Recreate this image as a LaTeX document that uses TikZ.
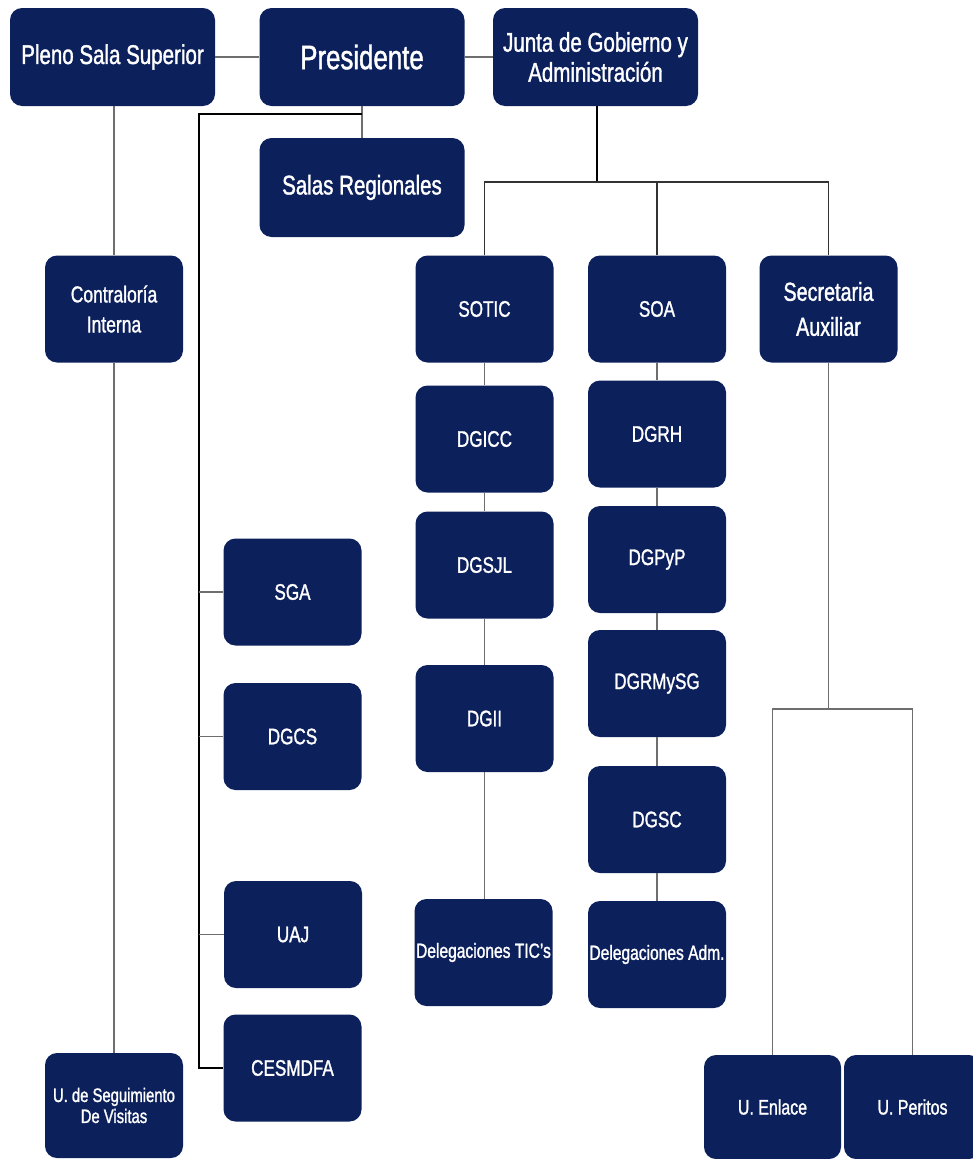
\documentclass[tikz,border=0pt]{standalone}
\usepackage{fontspec}
\setmainfont[FakeStretch=0.76,FakeBold=1.3]{Liberation Sans}
\definecolor{navy}{RGB}{12,32,92}
\definecolor{lineg}{RGB}{110,110,110}
\begin{document}
\begin{tikzpicture}[x=1pt,y=-1pt,
  box/.style={fill=navy, rounded corners=12pt, text=white, align=center,
    inner sep=0pt, minimum width=138pt, minimum height=107pt,
    font=\fontsize{22.5}{27}\selectfont},
  topbox/.style={box, minimum width=205pt, minimum height=98pt,
    font=\fontsize{27}{30}\selectfont},
  conn/.style={draw=lineg, line width=1.5pt},
  bus/.style={draw=black, line width=1.8pt}]
\fill[white] (0,0) rectangle (972,1159);
\useasboundingbox (0,0) rectangle (972,1159);
% top row
\node[topbox] (pleno) at (112.5,57) {Pleno Sala Superior};
\node[topbox, font=\fontsize{34}{38}\selectfont] (pres) at (362,57) {Presidente};
\node[topbox] (junta) at (595.5,57) {Junta de Gobierno y\\Administración};
\node[topbox, minimum height=99pt] (salas) at (362,187.5) {Salas Regionales};
% second level
\node[box, font=\fontsize{23}{30}\selectfont] (contra) at (114,309) {Contraloría\\Interna};
\node[box] (sotic) at (484.5,309) {SOTIC};
\node[box] (soa) at (657,309) {SOA};
\node[box, font=\fontsize{26}{35}\selectfont] (secaux) at (828.5,309) {Secretaria\\Auxiliar};
% SOTIC column
\node[box] (dgicc) at (484.5,439) {DGICC};
\node[box] (dgsjl) at (484.5,565) {DGSJL};
\node[box] (dgii) at (484.5,718.5) {DGII};
\node[box, font=\fontsize{20.5}{24}\selectfont] (deltic) at (483.5,952.5) {Delegaciones TIC's};
% SOA column
\node[box] (dgrh) at (657,434) {DGRH};
\node[box] (dgpyp) at (657,559.5) {DGPyP};
\node[box] (dgrmysg) at (657,683.5) {DGRMySG};
\node[box] (dgsc) at (657,819.5) {DGSC};
\node[box, font=\fontsize{20.5}{24}\selectfont] (deladm) at (657,954.5) {Delegaciones Adm.};
% president's left branch
\node[box] (sga) at (292.5,592) {SGA};
\node[box] (dgcs) at (292.5,736.5) {DGCS};
\node[box] (uaj) at (293,934.5) {UAJ};
\node[box] (cesm) at (292.5,1068) {CESMDFA};
% bottom
\node[box, minimum height=105pt, font=\fontsize{19.5}{21}\selectfont] (useg) at (114,1105.5) {U. de Seguimiento\\De Visitas};
\node[box, minimum width=137pt, minimum height=104pt, font=\fontsize{21}{24}\selectfont] (uenl) at (772.5,1107) {U. Enlace};
\node[box, minimum width=137pt, minimum height=104pt, font=\fontsize{21}{24}\selectfont] (uper) at (912.5,1107) {U. Peritos};
% junction coordinates
\coordinate (pj) at (362,114);
\coordinate (pl) at (199,114);
\coordinate (jj) at (597,182);
\coordinate (sj) at (828.5,709);
% connectors
\draw[conn] (pleno.east) -- (pres.west);
\draw[conn] (pres.east) -- (junta.west);
\draw[conn] (pres.south) -- (salas.north);
\draw[bus] (pj) -- (pl) -- (pl |- cesm.west) -- (cesm.west);
\draw[conn] (pl |- sga.west) -- (sga.west);
\draw[conn] (pl |- dgcs.west) -- (dgcs.west);
\draw[conn] (pl |- uaj.west) -- (uaj.west);
\draw[conn] (contra.north) -- (contra.north |- pleno.south);
\draw[conn] (contra.south) -- (useg.north);
\draw[bus, line width=1.5pt] (junta.south -| jj) -- (jj);
\draw[bus, draw=black!80, line width=1.5pt] (sotic.north) -- (sotic.north |- jj) -- (secaux.north |- jj) -- (secaux.north);
\draw[bus, draw=black!80, line width=1.5pt] (soa.north |- jj) -- (soa.north);
\draw[conn] (sotic.south) -- (dgicc.north);
\draw[conn] (dgicc.south) -- (dgsjl.north);
\draw[conn] (dgsjl.south) -- (dgii.north);
\draw[conn] (dgii.south) -- (deltic.north -| dgii.south);
\draw[conn] (soa.south) -- (dgrh.north);
\draw[conn] (dgrh.south) -- (dgpyp.north);
\draw[conn] (dgpyp.south) -- (dgrmysg.north);
\draw[conn] (dgrmysg.south) -- (dgsc.north);
\draw[conn] (dgsc.south) -- (deladm.north);
\draw[conn] (secaux.south) -- (sj);
\draw[conn] (uenl.north) -- (uenl.north |- sj) -- (uper.north |- sj) -- (uper.north);
\end{tikzpicture}
\end{document}
